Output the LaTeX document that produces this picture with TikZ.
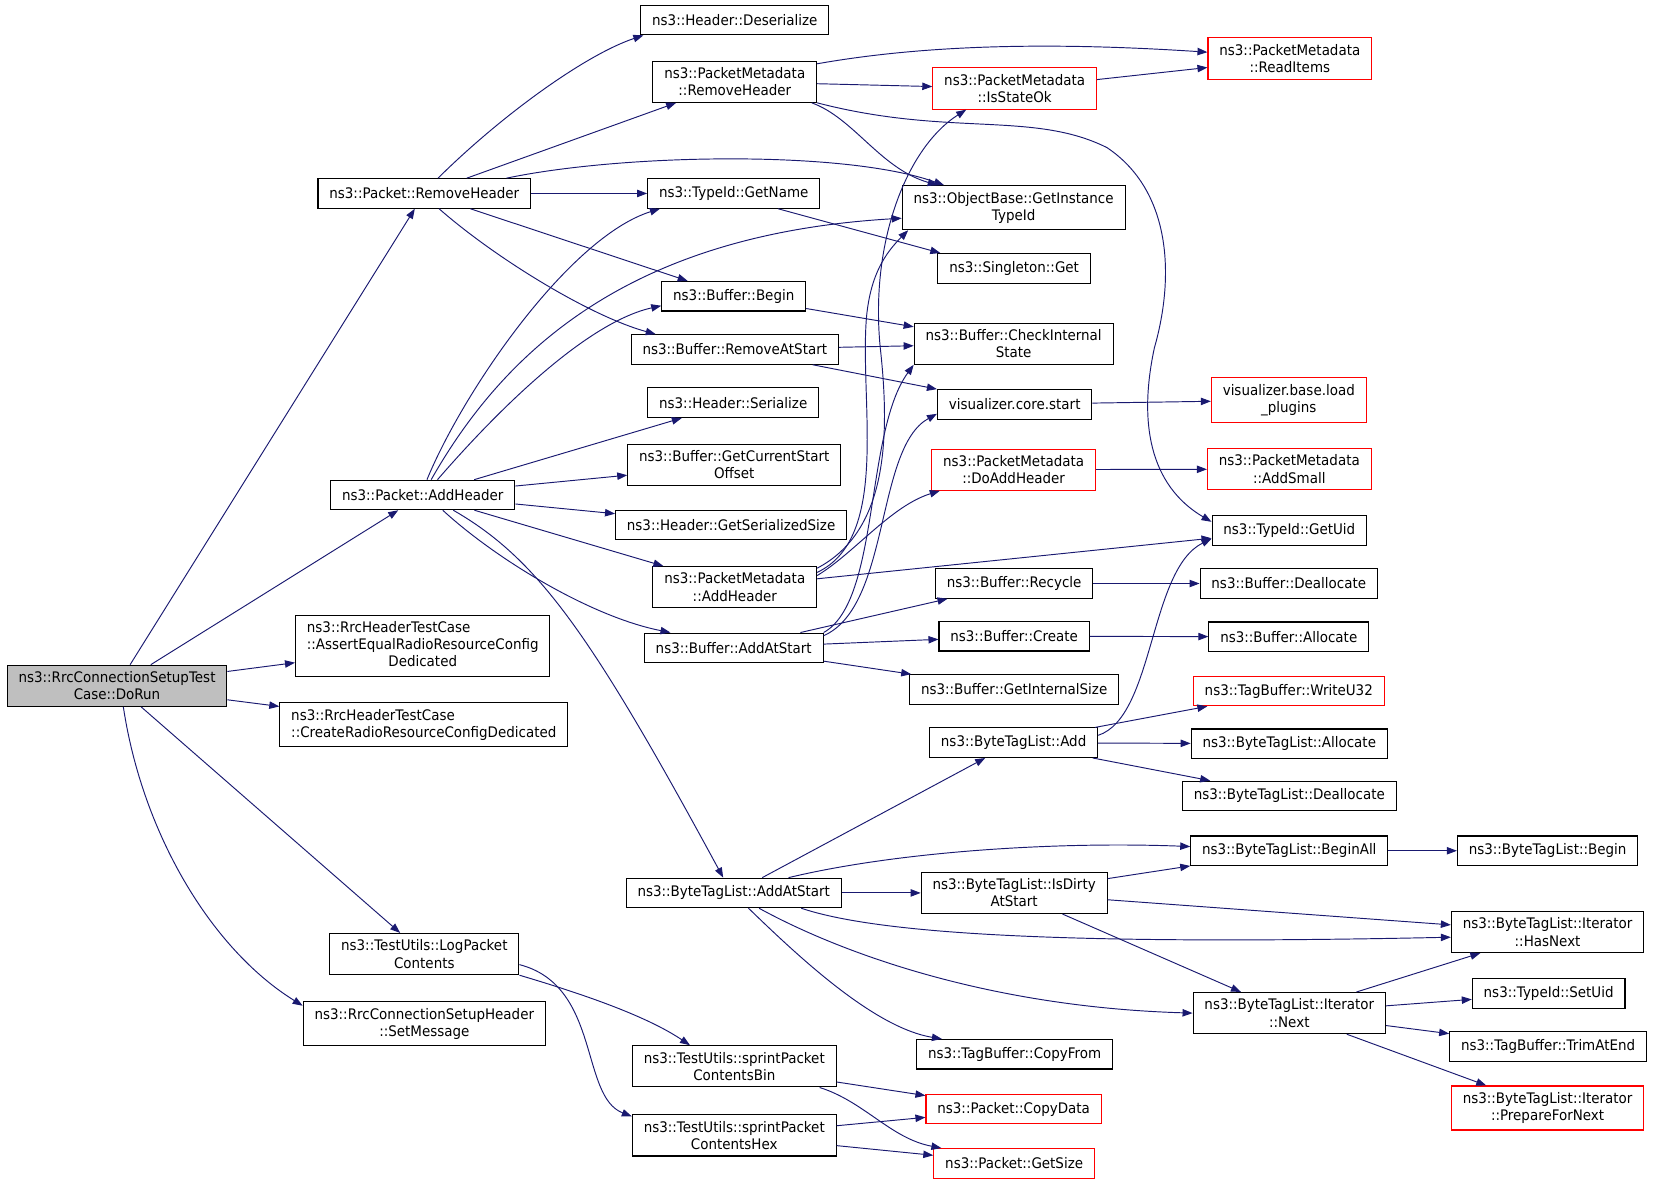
\documentclass[tikz,border=0pt]{standalone}
\usepackage{fontspec}
\newfontfamily\dotfont{DejaVu Sans}[FakeStretch=0.925]
\usetikzlibrary{arrows.meta}
\definecolor{edgeblue}{HTML}{191970}
\definecolor{rootgray}{HTML}{BFBFBF}
\tikzset{
  fn/.style={draw=black, line width=1pt, fill=white, align=center,
    inner xsep=10.8pt, inner ysep=6pt, minimum height=28pt,
    font=\dotfont\fontsize{13.8}{16.4}\selectfont},
  fnred/.style={fn, draw=red},
  call/.style={draw=edgeblue, line width=0.9pt, -{Triangle[length=9.5pt,width=7pt]}}
}
\begin{document}
\begin{tikzpicture}[x=1pt,y=-1pt]
    \useasboundingbox (0,0) rectangle (1568,1122);
    % caller
    \node[fn, fill=rootgray] (doRun) at (111,650.5) {ns3::RrcConnectionSetupTest\\Case::DoRun};
    % first level
    \node[fn] (pktRemoveHdr) at (402.5,183.5) {ns3::Packet::RemoveHeader};
    \node[fn] (pktAddHdr) at (401,469.5) {ns3::Packet::AddHeader};
    \node[fn, inner ysep=4.5pt] (assertEq) at (401,613) {\begin{tabular}{@{}l@{}}ns3::RrcHeaderTestCase\\::AssertEqualRadioResourceConfig\\\multicolumn{1}{@{}c@{}}{Dedicated}\end{tabular}};
    \node[fn, align=left] (createRrc) at (402,687.5) {ns3::RrcHeaderTestCase\\::CreateRadioResourceConfigDedicated};
    \node[fn] (logPkt) at (402.5,905) {ns3::TestUtils::LogPacket\\Contents};
    \node[fn] (setMsg) at (402.5,971) {ns3::RrcConnectionSetupHeader\\::SetMessage};
    % second level
    \node[fn] (hdrDeser) at (697,19) {ns3::Header::Deserialize};
    \node[fn] (pmRemoveHdr) at (697,77.5) {ns3::PacketMetadata\\::RemoveHeader};
    \node[fn] (tidGetName) at (696,183.5) {ns3::TypeId::GetName};
    \node[fn] (bufBegin) at (696,281) {ns3::Buffer::Begin};
    \node[fn] (bufRemoveAt) at (697,331.5) {ns3::Buffer::RemoveAtStart};
    \node[fn] (hdrSer) at (695.5,382) {ns3::Header::Serialize};
    \node[fn] (bufCurStart) at (696.5,441) {ns3::Buffer::GetCurrentStart\\Offset};
    \node[fn] (hdrSerSize) at (693.5,498) {ns3::Header::GetSerializedSize};
    \node[fn] (pmAddHdr) at (697,557) {ns3::PacketMetadata\\::AddHeader};
    \node[fn] (bufAddAt) at (696,614.5) {ns3::Buffer::AddAtStart};
    \node[fn] (btlAddAt) at (696,847) {ns3::ByteTagList::AddAtStart};
    \node[fn] (sprintBin) at (696.5,1011.5) {ns3::TestUtils::sprintPacket\\ContentsBin};
    \node[fn] (sprintHex) at (696.5,1077) {ns3::TestUtils::sprintPacket\\ContentsHex};
    % third level
    \node[fnred] (pmIsStateOk) at (962.5,84) {ns3::PacketMetadata\\::IsStateOk};
    \node[fn] (obGetTid) at (961.5,197) {ns3::ObjectBase::GetInstance\\TypeId};
    \node[fn] (singletonGet) at (962,254.5) {ns3::Singleton::Get};
    \node[fn] (bufCheck) at (961.5,326) {ns3::Buffer::CheckInternal\\State};
    \node[fn] (vizStart) at (962.5,383.5) {visualizer.core.start};
    \node[fnred] (pmDoAddHdr) at (961.5,445.5) {ns3::PacketMetadata\\::DoAddHeader};
    \node[fn] (bufRecycle) at (962,553.5) {ns3::Buffer::Recycle};
    \node[fn] (bufCreate) at (962,603.5) {ns3::Buffer::Create};
    \node[fn] (bufIntSize) at (962,654) {ns3::Buffer::GetInternalSize};
    \node[fn] (btlAdd) at (961.5,704.5) {ns3::ByteTagList::Add};
    \node[fn] (btlIsDirty) at (962,847) {ns3::ByteTagList::IsDirty\\AtStart};
    \node[fn] (tbCopyFrom) at (962.5,1000) {ns3::TagBuffer::CopyFrom};
    \node[fnred] (pktCopyData) at (961.5,1052) {ns3::Packet::CopyData};
    \node[fnred] (pktGetSize) at (962,1103.5) {ns3::Packet::GetSize};
    % fourth level
    \node[fnred] (pmReadItems) at (1223.5,55.5) {ns3::PacketMetadata\\::ReadItems};
    \node[fnred] (vizLoad) at (1222.5,379.5) {visualizer.base.load\\\_plugins};
    \node[fnred] (pmAddSmall) at (1223,445) {ns3::PacketMetadata\\::AddSmall};
    \node[fn] (tidGetUid) at (1223,503) {ns3::TypeId::GetUid};
    \node[fn] (bufDealloc) at (1222.5,553.5) {ns3::Buffer::Deallocate};
    \node[fn] (bufAlloc) at (1222.5,604) {ns3::Buffer::Allocate};
    \node[fnred] (tbWriteU32) at (1222.5,655.5) {ns3::TagBuffer::WriteU32};
    \node[fn] (btlAlloc) at (1223,705.5) {ns3::ByteTagList::Allocate};
    \node[fn] (btlDealloc) at (1223,755) {ns3::ByteTagList::Deallocate};
    \node[fn] (btlBeginAll) at (1223,807) {ns3::ByteTagList::BeginAll};
    \node[fn] (iterNext) at (1223,961) {ns3::ByteTagList::Iterator\\::Next};
    % fifth level
    \node[fn] (btlBegin) at (1468,807) {ns3::ByteTagList::Begin};
    \node[fn] (iterHasNext) at (1468,884) {ns3::ByteTagList::Iterator\\::HasNext};
    \node[fn] (tidSetUid) at (1469,942.5) {ns3::TypeId::SetUid};
    \node[fn] (tbTrimAtEnd) at (1468.5,992.5) {ns3::TagBuffer::TrimAtEnd};
    \node[fnred] (iterPrepare) at (1468,1051) {ns3::ByteTagList::Iterator\\::PrepareForNext};

    % straight calls
\foreach \a/\b in
{doRun/pktRemoveHdr, doRun/pktAddHdr, doRun/assertEq, doRun/createRrc, doRun/logPkt,
    pktRemoveHdr/pmRemoveHdr, pktRemoveHdr/tidGetName, pktRemoveHdr/bufBegin,
    pktAddHdr/hdrSer, pktAddHdr/bufCurStart, pktAddHdr/hdrSerSize, pktAddHdr/pmAddHdr,
    pmRemoveHdr/pmIsStateOk, pmIsStateOk/pmReadItems,
    bufBegin/bufCheck, bufRemoveAt/bufCheck, bufRemoveAt/vizStart, vizStart/vizLoad,
    pmAddHdr/tidGetUid, pmDoAddHdr/pmAddSmall,
    bufAddAt/bufRecycle, bufAddAt/bufCreate, bufAddAt/bufIntSize,
    bufRecycle/bufDealloc, bufCreate/bufAlloc,
    btlAdd/tbWriteU32, btlAdd/btlAlloc, btlAdd/btlDealloc,
    btlAddAt/btlAdd, btlAddAt/btlIsDirty,
    btlIsDirty/btlBeginAll, btlIsDirty/iterHasNext, btlIsDirty/iterNext,
    btlBeginAll/btlBegin,
    iterNext/iterHasNext, iterNext/tidSetUid, iterNext/tbTrimAtEnd, iterNext/iterPrepare,
    sprintBin/pktCopyData, sprintHex/pktCopyData, sprintHex/pktGetSize}
{
    \draw[call] (\a) -- (\b);
};
    \draw[call] ([xshift=42pt]tidGetName.south) -- ([xshift=-70pt]singletonGet.north);

    % curved calls
    \draw[call] ([xshift=6pt]doRun.south) .. controls (135,790) and (200,900) .. ([yshift=17pt]setMsg.west);
    \draw[call] ([xshift=13pt]pktRemoveHdr.north) .. controls (475,110) and (555,52) .. ([xshift=3pt]hdrDeser.south west);
    \draw[call] ([xshift=78pt]pktRemoveHdr.north) .. controls (590,146) and (800,142) .. ([xshift=-66pt]obGetTid.north);
    \draw[call] ([xshift=14pt]pktRemoveHdr.south) .. controls (470,245) and (560,300) .. ([xshift=-75pt]bufRemoveAt.north);
    \draw[call] ([xshift=4pt]pktAddHdr.north) .. controls (440,370) and (540,225) .. ([xshift=-70pt]tidGetName.south);
    \draw[call] ([xshift=8pt]pktAddHdr.north) .. controls (480,330) and (600,222) .. ([yshift=-10pt]obGetTid.west);
    \draw[call] ([xshift=14pt]pktAddHdr.north) .. controls (480,380) and (560,305) .. ([yshift=-9pt]bufBegin.west);
    \draw[call] ([xshift=19pt]pktAddHdr.south) .. controls (470,530) and (560,585) .. ([xshift=-60pt]bufAddAt.north);
    \draw[call] ([xshift=29pt]pktAddHdr.south) .. controls (510,530) and (560,600) .. ([xshift=-10pt]btlAddAt.north);
    \draw[call] ([yshift=17pt]pmRemoveHdr.east) .. controls (880,42) and (1000,40) .. ([yshift=6pt]pmReadItems.west);
    \draw[call] ([xshift=73pt]pmRemoveHdr.south) .. controls (810,112) and (835,160) .. ([xshift=-72pt]obGetTid.north);
    \draw[call] (pmRemoveHdr.south east) .. controls (900,130) and (980,105) .. (1050,140)
        .. controls (1110,180) and (1115,260) .. (1095,330)
        .. controls (1080,400) and (1090,460) .. ([yshift=8pt]tidGetUid.west);
    \draw[call] ([yshift=-2pt]pmAddHdr.north east) .. controls (840,505) and (845,420) .. (835,330)
        .. controls (825,230) and (860,140) .. ([xshift=-46pt]pmIsStateOk.south);
    \draw[call] ([yshift=-6pt]pmAddHdr.north east) .. controls (845,510) and (815,380) .. (822,300)
        .. controls (826,260) and (840,240) .. ([xshift=-100pt]obGetTid.south);
    \draw[call] ([yshift=-9pt]pmAddHdr.north east) .. controls (810,525) and (845,480) .. ([xshift=-70pt]pmDoAddHdr.south);
    \draw[call] (bufAddAt.north east) .. controls (835,570) and (820,410) .. (bufCheck.south west);
    \draw[call] ([yshift=-3pt]bufAddAt.north east) .. controls (845,575) and (830,425) .. ([yshift=-9pt]vizStart.west);
    \draw[call] ([yshift=7pt]btlAdd.east) .. controls (1095,680) and (1090,540) .. ([yshift=-8pt]tidGetUid.west);
    \draw[call] ([xshift=52pt]btlAddAt.north) .. controls (850,808) and (1000,798) .. ([yshift=4pt]btlBeginAll.west);
    \draw[call] ([xshift=64pt]btlAddAt.south) .. controls (830,885) and (1000,897) .. ([yshift=-5pt]iterHasNext.west);
    \draw[call] ([xshift=24pt]btlAddAt.south) .. controls (790,900) and (930,955) .. (iterNext.west);
    \draw[call] ([xshift=14pt]btlAddAt.south) .. controls (760,910) and (830,975) .. ([xshift=-69pt]tbCopyFrom.north);
    \draw[call] (logPkt.south east) .. controls (560,945) and (615,965) .. ([xshift=-42pt]sprintBin.north);
    \draw[call] ([yshift=-10pt]logPkt.east) .. controls (570,935) and (550,1040) .. ([yshift=18pt]sprintHex.west);
    \draw[call] ([xshift=81pt]sprintBin.south) .. controls (820,1045) and (845,1080) .. ([xshift=-69pt]pktGetSize.north);
\end{tikzpicture}
\end{document}
